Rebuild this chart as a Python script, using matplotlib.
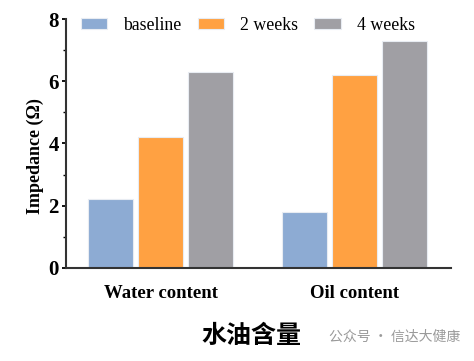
import numpy as np
import matplotlib
matplotlib.use("Agg")
import matplotlib.pyplot as plt
from matplotlib.ticker import MultipleLocator

categories = ["Water content", "Oil content"]
series_names = ["baseline", "2 weeks", "4 weeks"]
baseline = [2.2, 1.8]
weeks2 = [4.2, 6.2]
weeks4 = [6.3, 7.3]
colors = ["#8DABD3", "#FFA142", "#A09FA4"]

plt.rcParams["font.family"] = ["Liberation Serif", "DejaVu Serif"]

fig = plt.figure(figsize=(4.74, 3.61), dpi=100)
ax = fig.add_axes([0.139, 0.258, 0.812, 0.689])

x = np.arange(len(categories))
w = 0.232
step = 0.258
for i, (vals, name) in enumerate(zip([baseline, weeks2, weeks4], series_names)):
    ax.bar(x + (i - 1) * step, vals, width=w, color=colors[i], label=name,
           edgecolor="#E8ECF2", linewidth=0.8)

ax.set_xlim(-0.49, 1.495)
ax.set_ylim(0, 8)
ax.yaxis.set_major_locator(MultipleLocator(2))
ax.yaxis.set_minor_locator(MultipleLocator(1))
ax.set_xticks(x)
ax.set_xticklabels(categories, fontsize=13.5, fontweight="bold")
for lab in ax.get_yticklabels():
    lab.set_fontsize(15)
    lab.set_fontweight("bold")
ax.tick_params(axis="x", length=0, pad=12)
ax.tick_params(axis="y", which="major", length=3, width=1.3, pad=2)
ax.tick_params(axis="y", which="minor", length=2, width=1.0)

for s in ["top", "right"]:
    ax.spines[s].set_visible(False)
for s in ["left", "bottom"]:
    ax.spines[s].set_linewidth(1.5)
    ax.spines[s].set_color("#333333")

ax.set_ylabel("Impedance (Ω)", fontsize=13, fontweight="bold")
ax.yaxis.set_label_coords(-0.058, 0.45)

ax.legend(loc="center left", bbox_to_anchor=(0.02, 0.975), ncol=3, frameon=False,
          fontsize=12.8, handlelength=1.5, handleheight=0.55, columnspacing=0.9,
          handletextpad=0.9, borderaxespad=0)

fig.text(0.53, 0.068, "水油含量", fontsize=18, fontweight="bold",
         family=["Noto Sans CJK SC"], ha="center", va="center")
fig.text(0.695, 0.068, "公众号 · 信达大健康", fontsize=10, color="#9A9A9A",
         family=["Noto Sans CJK SC"], ha="left", va="center")

fig.savefig("out.png", dpi=100)
